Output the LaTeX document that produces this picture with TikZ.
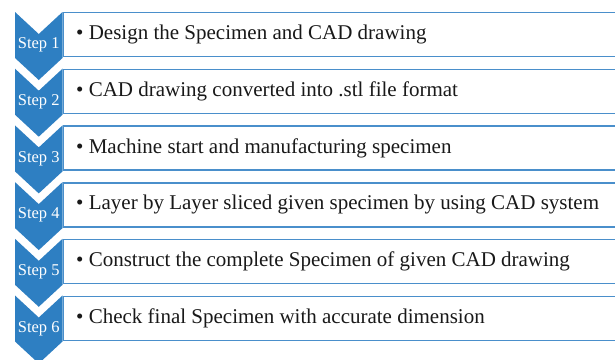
\documentclass[tikz,border=0pt]{standalone}
\usepackage{fontspec}
\setmainfont{Liberation Serif}
\definecolor{chevblue}{HTML}{2E7FC2}
\definecolor{boxblue}{HTML}{4A8FCB}
\tikzset{
  stepbox/.style={draw=boxblue, line width=1.4pt, fill=white, rectangle,
    minimum width=570pt, minimum height=44pt, anchor=north west, inner sep=0pt},
  chevshape/.style={fill=chevblue, draw=none},
  steplabel/.style={text=white, font=\fontsize{16.5}{16.5}\selectfont, inner sep=0pt},
  itemtext/.style={text=black!90, font=\fontsize{21}{21}\selectfont, anchor=west, inner sep=0pt}
}
\begin{document}
\begin{tikzpicture}[x=1pt,y=-1pt]
\useasboundingbox (0,0) rectangle (615,359);
\clip (0,0) rectangle (615,359);
\foreach \i/\txt in {
  1/{Design the Specimen and CAD drawing},
  2/{CAD drawing converted into .stl file format},
  3/{Machine start and manufacturing specimen},
  4/{Layer by Layer sliced given specimen by using CAD system},
  5/{Construct the complete Specimen of given CAD drawing},
  6/{Check final Specimen with accurate dimension}} {
  \pgfmathsetmacro{\t}{12+56.7*(\i-1)}
  % text box
  \node[stepbox] (box\i) at (63,\t) {};
  \node[itemtext] (text\i) at ([xshift=13pt]box\i.west) {• \txt};
  % chevron
  \fill[chevshape] (15,\t) -- (38.75,\t+22) -- (62.5,\t) -- (62.5,\t+46)
    -- (38.75,\t+68) -- (15,\t+46) -- cycle;
  \node[steplabel] (step\i) at (38.75,\t+33) {Step \i};
}
\end{tikzpicture}
\end{document}
